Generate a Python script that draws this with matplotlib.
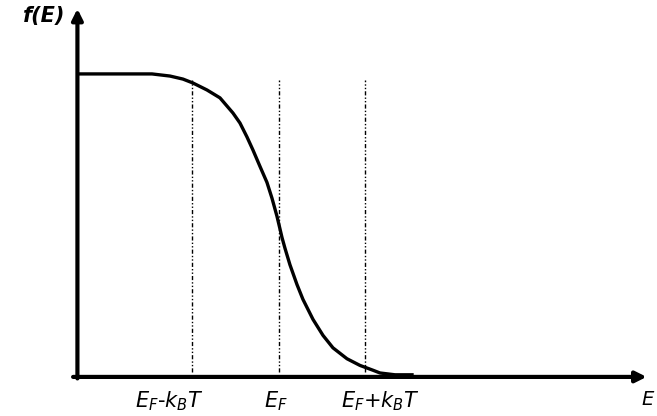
import matplotlib.pyplot as plt
import numpy as np

plt.rcParams['font.family'] = ['DejaVu Sans']
plt.rcParams['mathtext.fontset'] = 'custom'
plt.rcParams['mathtext.rm'] = 'DejaVu Sans'
plt.rcParams['mathtext.it'] = 'DejaVu Sans:italic'

energy = [-2.324, -1.468, -1.260, -1.110, -0.994, -0.832, -0.682, -0.532,
          -0.451, -0.370, -0.301, -0.220, -0.139, -0.081, -0.023, 0.012,
          0.035, 0.069, 0.127, 0.208, 0.277, 0.393, 0.509, 0.624, 0.786,
          0.936, 1.087, 1.168, 1.341, 1.538]
occupation = [1.0, 1.0, 0.993, 0.983, 0.970, 0.947, 0.921, 0.871,
              0.838, 0.792, 0.749, 0.695, 0.642, 0.590, 0.530, 0.488,
              0.460, 0.425, 0.370, 0.305, 0.256, 0.190, 0.137, 0.096, 0.060,
              0.038, 0.022, 0.013, 0.007, 0.007]

marks = [-1, 0, 1]
mark_labels = [r'$E_F$-$k_BT$', r'$E_F$', r'$E_F$+$k_BT$']
label_shift = [-0.27, -0.03, 0.17]

fig = plt.figure(figsize=(6.57, 4.16), dpi=100)
ax = fig.add_axes([0, 0, 1, 1])
ax.set_xlim(-3.225, 4.370)
ax.set_ylim(-0.129, 1.244)
ax.axis('off')

# axes with arrows
ax.annotate('', xy=(-2.33, 1.215), xytext=(-2.33, -0.005),
            arrowprops=dict(arrowstyle='-|>', lw=3, color='k', mutation_scale=16,
                            shrinkA=0, shrinkB=0))
ax.annotate('', xy=(4.25, 0.0), xytext=(-2.38, 0.0),
            arrowprops=dict(arrowstyle='-|>', lw=3, color='k', mutation_scale=16,
                            shrinkA=0, shrinkB=0))

ax.plot(energy, occupation, color='k', lw=2.4, solid_joinstyle='round')

for m in marks:
    ax.plot([m, m], [0.015, 0.98], color='k', lw=1.0, dashes=(3, 1.5, 1, 1.5, 1, 1.5))

for m, lab, s in zip(marks, mark_labels, label_shift):
    ax.text(m + s, -0.08, lab, fontsize=15, ha='center', va='center')

ax.text(-2.47, 1.19, 'f(E)', fontsize=15, fontweight='bold', fontstyle='italic',
        ha='right', va='center')
ax.text(4.19, -0.075, 'E', fontsize=14, fontstyle='italic', ha='left', va='center')

fig.savefig('out.png', dpi=100)
